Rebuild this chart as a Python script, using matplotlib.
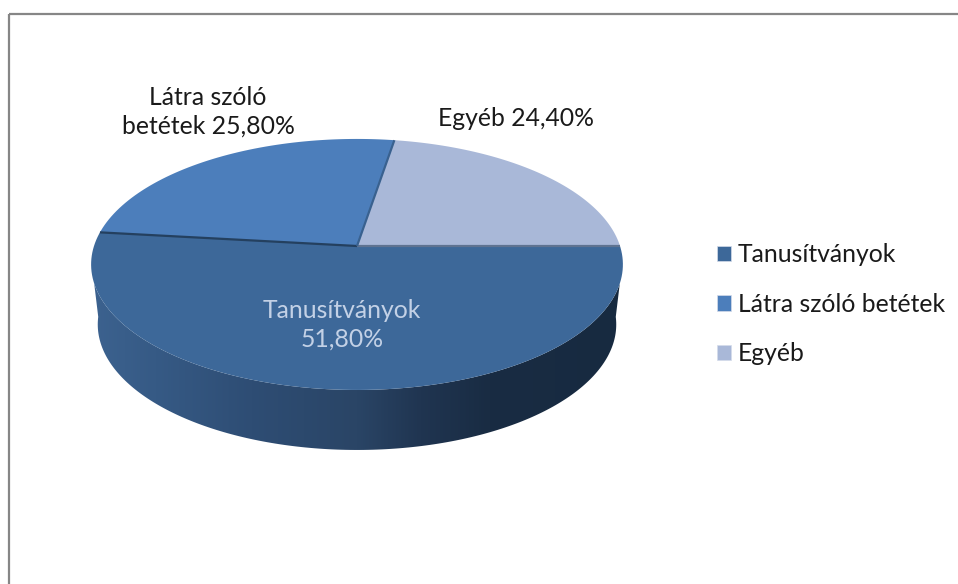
import numpy as np
import matplotlib
matplotlib.use("Agg")
import matplotlib.pyplot as plt
from matplotlib.colors import LinearSegmentedColormap
from matplotlib.patches import Patch, PathPatch, Rectangle
from matplotlib.path import Path
from matplotlib.transforms import Transform

categories = ["Tanusítványok", "Látra szóló betétek", "Egyéb"]
shares = [51.8, 25.8, 22.4]
colors = ["#3d6899", "#4c7ebb", "#a9b8d8"]

plt.rcParams["font.family"] = ["Lato", "DejaVu Sans"]

# pie position on the canvas, in pixels
CX, CY = 357, 246
RX, RY = 263, 122.8
TILT = 0.147
DEPTH = 60
FONT = 17.8


class TiltTransform(Transform):
    # flat unit circle -> tilted disc with a bit of perspective
    input_dims = 2
    output_dims = 2
    is_separable = False
    has_inverse = False

    def transform_non_affine(self, values):
        values = np.asarray(values, dtype=float)
        w = 1 + TILT * values[:, 1]
        return np.column_stack([CX + RX * values[:, 0] / w, CY - RY * values[:, 1] / w])

    def transform_path_non_affine(self, path):
        # flatten the arcs first, then move the points
        polys = path.to_polygons(transform=matplotlib.transforms.Affine2D().scale(2000), closed_only=True)
        verts = np.vstack(polys) / 2000
        return Path(self.transform_non_affine(verts), closed=True)


tilt = TiltTransform()

fig = plt.figure(figsize=(9.58, 5.84), dpi=100)
ax = fig.add_axes([0, 0, 1, 1])

wedges, _ = ax.pie(shares, colors=colors, startangle=0, counterclock=False, radius=1,
                   wedgeprops={"linewidth": 0})
ax.set_aspect("auto")
ax.set_xlim(0, 958)
ax.set_ylim(584, 0)
ax.axis("off")
for w in wedges:
    w.set_transform(tilt + ax.transData)
    w.set_zorder(3)

# side wall of the disc, the bottom edge is a little narrower and rounder
theta = np.radians(np.linspace(197, 343, 200))
rim = tilt.transform_non_affine(np.column_stack([np.cos(theta), np.sin(theta)]))
theta_low = np.radians(np.linspace(185, 355, 200))
lower = tilt.transform_non_affine(np.column_stack([np.cos(theta_low), np.sin(theta_low)]))
lower[:, 0] = CX + (lower[:, 0] - CX) * 0.975
lower[:, 1] += DEPTH
wall = PathPatch(Path(np.vstack([rim, lower[::-1], rim[:1]]), closed=True), fc="none", ec="none",
                 transform=ax.transData)
ax.add_patch(wall)
wall_cmap = LinearSegmentedColormap.from_list(
    "wall",
    [(0.0, "#3c628f"), (0.12, "#365a85"), (0.3, "#2e4d74"), (0.5, "#2a4566"),
     (0.62, "#203551"), (0.75, "#192c43"), (1.0, "#172a40")],
)
img = ax.imshow(np.linspace(0, 1, 256)[None, :], cmap=wall_cmap, aspect="auto",
                extent=(92, 622, 460, 250), zorder=2)
img.set_clip_path(wall)
ax.set_xlim(0, 958)
ax.set_ylim(584, 0)

# shaded seams between the slices
cuts = 360 - np.cumsum(shares) * 3.6
a_left, a_top = np.radians(cuts[0]), np.radians(cuts[1])
hub = tilt.transform_non_affine(np.array([[0.0, 0.0], [np.cos(a_left), np.sin(a_left)],
                                          [np.cos(a_top), np.sin(a_top)], [1.0, 0.0]]))
ax.plot(hub[[1, 0], 0], hub[[1, 0], 1], color="#24405f", lw=1.6, zorder=4, solid_capstyle="butt")
ax.plot(hub[[0, 3], 0], hub[[0, 3], 1], color="#5f7391", lw=1.6, zorder=4, solid_capstyle="butt")
ax.plot(hub[[0, 2], 0], hub[[0, 2], 1], color="#39618f", lw=1.6, zorder=4, solid_capstyle="butt")

# chart frame runs off the right and bottom of the crop
ax.add_patch(Rectangle((9.5, 14), 1000, 620, fc="none", ec="#868686", lw=1.6, zorder=1))

ax.text(208, 112, "Látra szóló\nbetétek 25,80%", ha="center", va="center", fontsize=FONT,
        color="#1a1a1a", linespacing=1.27, zorder=5)
ax.text(516, 118, "Egyéb 24,40%", ha="center", va="center", fontsize=FONT, color="#1a1a1a", zorder=5)
ax.text(342, 325, "Tanusítványok\n51,80%", ha="center", va="center", fontsize=FONT,
        color="#c3d1e6", linespacing=1.27, zorder=5)

handles = [Patch(facecolor=c, edgecolor="#d5dcea", lw=0.5) for c in colors]
ax.legend(handles, categories, loc="upper left", bbox_to_anchor=(717 / 958, 1 - 243 / 584),
          frameon=False, fontsize=FONT, handlelength=0.57, handleheight=0.57, handletextpad=0.28,
          labelspacing=1.08, borderpad=0, borderaxespad=0, labelcolor="#1a1a1a")

fig.savefig("out.png", dpi=100)
